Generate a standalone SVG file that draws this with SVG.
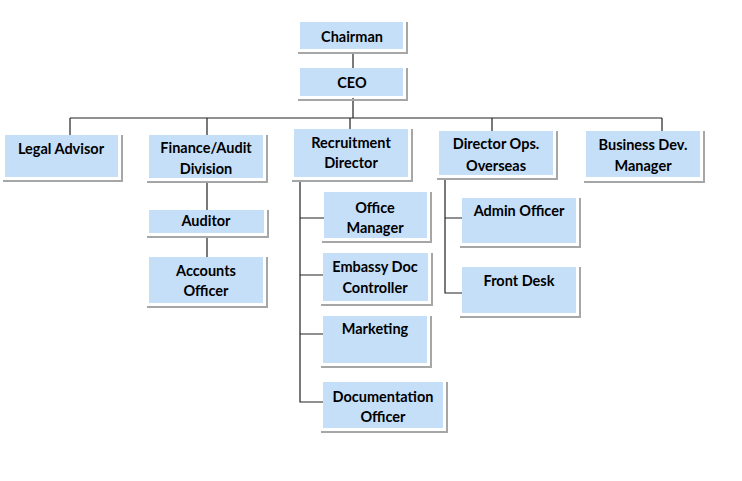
<svg xmlns="http://www.w3.org/2000/svg" width="742" height="481" viewBox="0 0 742 481">
<style>
.box{fill:#C6DFF9;stroke:none}
.sh{fill:none;stroke:#A6A6A6;stroke-width:2}
.t{font-family:Lato,"Open Sans","Liberation Sans",sans-serif;font-weight:bold;font-size:14.5px;fill:#000;text-anchor:middle}
.c{fill:none;stroke:#222;stroke-width:1.2}
</style>
<rect width="742" height="481" fill="#fff"/>
<g id="connectors">
<path class="c" d="M353,52V68"/>
<path class="c" d="M353,98V118M70,118H662M70,118V135M207,118V135M350,118V129M492,118V131M662,118V131"/>
<path class="c" d="M207,182V210M207,237V257"/>
<path class="c" d="M300,181V402H323M300,218H324M300,275H323M300,334H323"/>
<path class="c" d="M445,179V293H462M445,218H462"/>
</g>
<g id="chairman"><path class="sh" d="M298,53H407V22"/><rect class="box" x="300" y="22" width="103" height="27"/><text class="t" x="352" y="42">Chairman</text></g>
<g id="ceo"><path class="sh" d="M298,100H407V68"/><rect class="box" x="300" y="68" width="103" height="28"/><text class="t" x="352" y="88">CEO</text></g>
<g id="legal"><path class="sh" d="M3,181H122V135"/><rect class="box" x="5" y="135" width="113" height="42"/><text class="t" x="61" y="154">Legal Advisor</text></g>
<g id="finance"><path class="sh" d="M147,182H267V135"/><rect class="box" x="149" y="135" width="114" height="43"/><text class="t" x="206" y="153">Finance/Audit</text><text class="t" x="206" y="174">Division</text></g>
<g id="recruitment"><path class="sh" d="M292,181H412V129"/><rect class="box" x="294" y="129" width="114" height="48"/><text class="t" x="351" y="148">Recruitment</text><text class="t" x="351" y="168">Director</text></g>
<g id="directorops"><path class="sh" d="M437,179H557V131"/><rect class="box" x="439" y="131" width="114" height="44"/><text class="t" x="496" y="149">Director Ops.</text><text class="t" x="496" y="171">Overseas</text></g>
<g id="bizdev"><path class="sh" d="M584,182H704V131"/><rect class="box" x="586" y="131" width="114" height="46"/><text class="t" x="643" y="150">Business Dev.</text><text class="t" x="643" y="171">Manager</text></g>
<g id="auditor"><path class="sh" d="M147,237H268V210"/><rect class="box" x="149" y="210" width="115" height="23"/><text class="t" x="206" y="226">Auditor</text></g>
<g id="accounts"><path class="sh" d="M147,307H267V257"/><rect class="box" x="149" y="257" width="114" height="46"/><text class="t" x="206" y="276">Accounts</text><text class="t" x="206" y="296">Officer</text></g>
<g id="officemanager"><path class="sh" d="M322,242H431V192"/><rect class="box" x="324" y="192" width="103" height="46"/><text class="t" x="375" y="213">Office</text><text class="t" x="375" y="233">Manager</text></g>
<g id="embassy"><path class="sh" d="M321,305H432V253"/><rect class="box" x="323" y="253" width="105" height="48"/><text class="t" x="375" y="272">Embassy Doc</text><text class="t" x="375" y="293">Controller</text></g>
<g id="marketing"><path class="sh" d="M321,367H431V316"/><rect class="box" x="323" y="316" width="104" height="47"/><text class="t" x="375" y="334">Marketing</text></g>
<g id="documentation"><path class="sh" d="M321,432H447V382"/><rect class="box" x="323" y="382" width="120" height="46"/><text class="t" x="383" y="402">Documentation</text><text class="t" x="383" y="422">Officer</text></g>
<g id="admin"><path class="sh" d="M460,247H580V198"/><rect class="box" x="462" y="198" width="114" height="45"/><text class="t" x="519" y="216">Admin Officer</text></g>
<g id="frontdesk"><path class="sh" d="M460,317H580V267"/><rect class="box" x="462" y="267" width="114" height="46"/><text class="t" x="519" y="286">Front Desk</text></g>
</svg>
